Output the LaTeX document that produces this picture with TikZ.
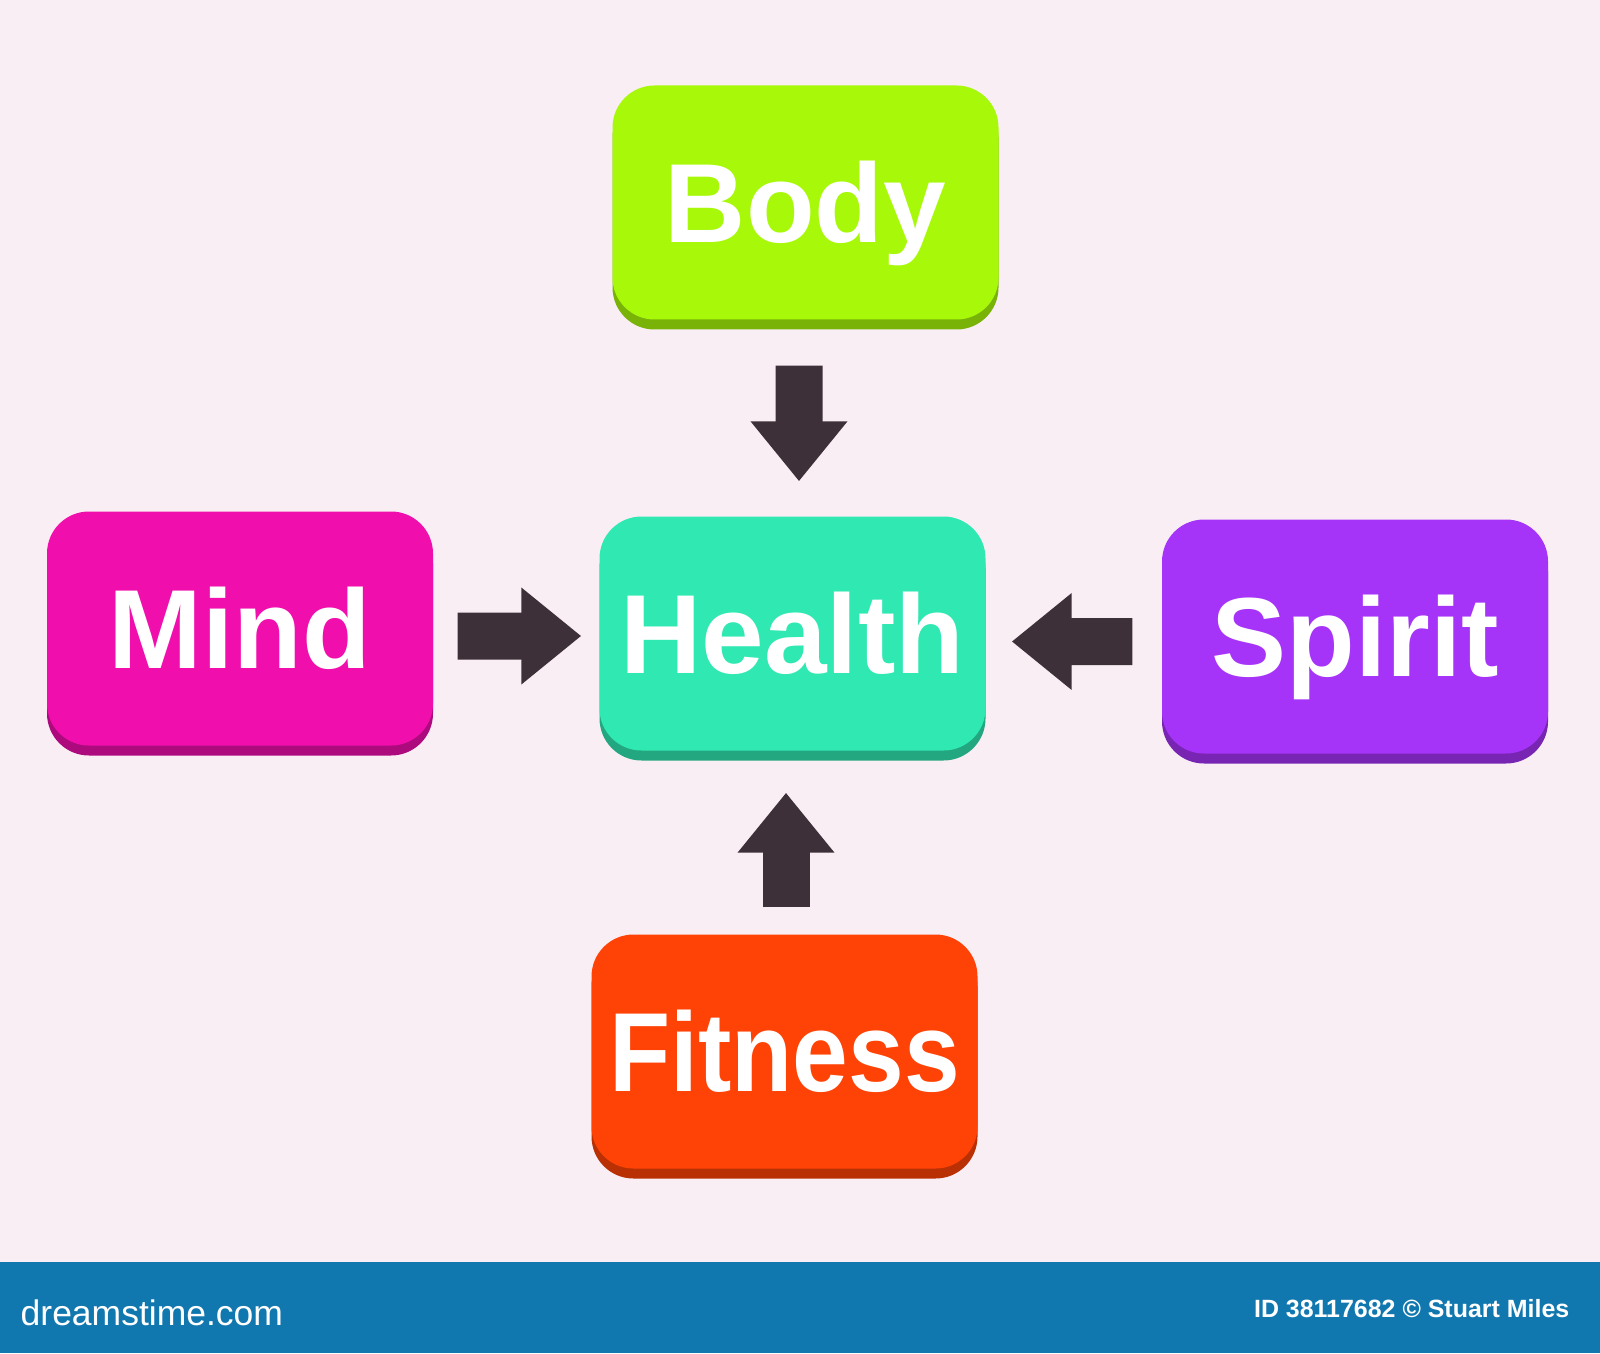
\documentclass[tikz,border=0pt]{standalone}
\usepackage{fontspec}
\usepackage{graphicx}
\usetikzlibrary{arrows.meta}
\usetikzlibrary{shadows}
\newfontfamily\boxfont{Liberation Sans}
\definecolor{bgpink}{HTML}{FAEEF5}
\definecolor{barblue}{HTML}{1177AF}
\definecolor{bodygreen}{HTML}{A8F80A}
\definecolor{mindpink}{HTML}{F00FAD}
\definecolor{healthteal}{HTML}{30E8B2}
\definecolor{spiritpurple}{HTML}{A634F8}
\definecolor{fitnessred}{HTML}{FF4306}
\definecolor{arrowgray}{HTML}{3E3038}

\begin{document}
\begin{tikzpicture}[box node/.style={rectangle,rounded corners=0.42cm,minimum width=3.86cm,minimum height=2.34cm,
    inner sep=0pt,text height=0.8cm,text depth=0pt,text=white,font=\boxfont\bfseries\fontsize{32}{36}\selectfont,
    fill=#1,drop shadow={shadow xshift=0pt,shadow yshift=-0.1cm,fill=#1!72!black,opacity=1}},
    block arrow/.style={arrowgray,line width=0.47cm,-{Triangle[width=0.93cm,length=0.6cm]}},
    bar text/.style={text=white,inner sep=0pt}]
   % background and credit bar
   \fill[bgpink] (0,0) rectangle (16,13.53);
   \fill[barblue] (0,0) rectangle (16,0.91);
   \node[bar text,anchor=base west,font=\boxfont\fontsize{10.1}{12}\selectfont] (site) at (0.20,0.28) {dreamstime.com};
   \node[bar text,anchor=base east,font=\boxfont\bfseries\fontsize{7.1}{9}\selectfont] (credit) at (15.70,0.36) {ID 38117682 © Stuart Miles};
   % the five boxes
   \node[box node=bodygreen] (body) at (8.055,11.505) {Body};
   \node[box node=mindpink] (mind) at (2.40,7.245) {Mind};
   \node[box node=healthteal] (health) at (7.925,7.195) {Health};
   \node[box node=spiritpurple] (spirit) at (13.55,7.165) {Spirit};
   \node[box node=fitnessred] (fitness) at (7.845,3.015) {\scalebox{0.89}[1]{Fitness}};
   % arrows into health
   \draw[block arrow,shorten <=0.455cm,shorten >=0.345cm] ([xshift=-0.065cm]body.south) -- ([xshift=0.065cm]health.north);
   \draw[block arrow,shorten <=0.24cm,shorten >=0.175cm] ([yshift=-0.075cm]mind.east) -- ([yshift=-0.025cm]health.west);
   \draw[block arrow,shorten <=0.29cm,shorten >=0.255cm] ([yshift=-0.05cm]spirit.west) -- ([yshift=-0.08cm]health.east);
   \draw[block arrow,shorten <=0.265cm,shorten >=0.415cm] ([xshift=0.015cm]fitness.north) -- ([xshift=-0.065cm]health.south);
\end{tikzpicture}
\end{document}
